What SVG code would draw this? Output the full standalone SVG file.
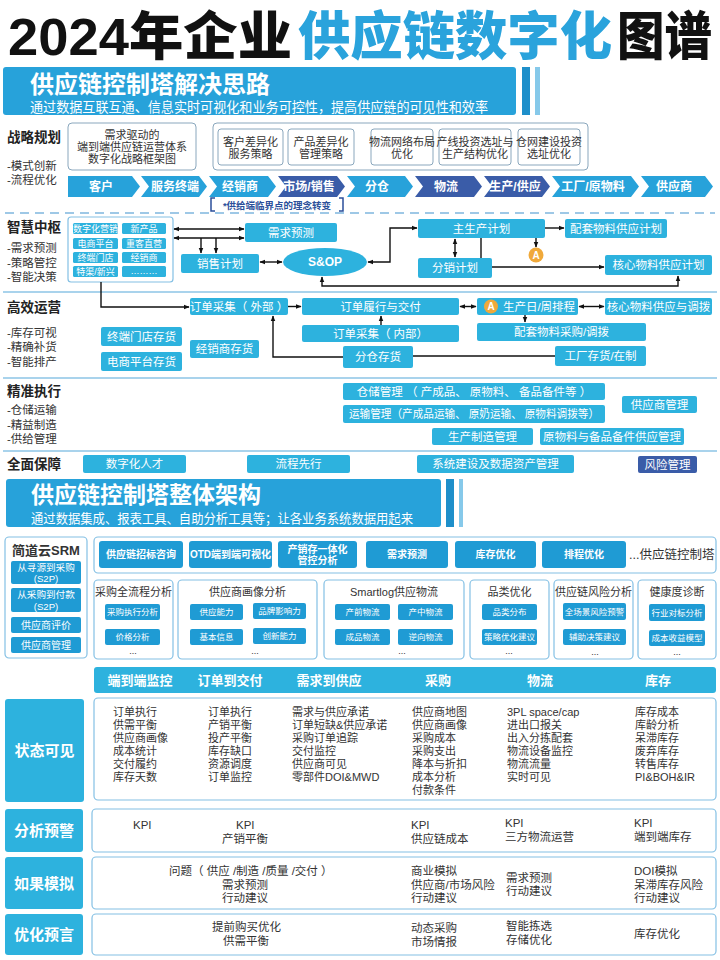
<svg xmlns="http://www.w3.org/2000/svg" width="720" height="960" viewBox="0 0 720 960">
<defs>
<marker id="ah" viewBox="0 0 10 10" refX="9" refY="5" markerWidth="6" markerHeight="6" orient="auto-start-reverse" markerUnits="userSpaceOnUse">
<path d="M0,1 L10,5 L0,9 z" fill="#111"/>
</marker>
<style>
text{font-family:"Liberation Sans","Noto Sans CJK SC",sans-serif;}
.c{text-anchor:middle;dominant-baseline:central}
.m{dominant-baseline:central}
.b{fill:#2db2de}
.bd{fill:#3a5ca8}
.bh{fill:#27a2da}
.bs{fill:#1f9bd4}
.sep{stroke:#8cc4e6;stroke-width:1.5;fill:none}
.ln{stroke:#111;stroke-width:1.4;fill:none}
.ol{fill:#fff;stroke:#84c0e4;stroke-width:1.2}
.og{fill:#fff;stroke:#8aa7bd;stroke-width:1}
.sec{font-size:13.5px;font-weight:700;fill:#222}
.sub{font-size:11.5px;fill:#333}
.bt{font-size:11.5px;fill:#fff}
.st{font-size:11px;fill:#333}
.btn{font-size:8.5px;fill:#fff}
.hb{font-size:10px;fill:#fff;font-weight:700}
.lb{font-size:15px;fill:#fff;font-weight:700}
.kt{font-size:11.5px;fill:#333}
.cv{font-size:12px;fill:#fff;font-weight:700}
.cell{font-size:9px;fill:#fff}
.dots{font-size:9px;fill:#333}
</style>
</defs>
<rect width="720" height="960" fill="#fff"/>

<g id="title">
<text x="8" y="55" font-size="52" font-weight="900" fill="#111" textLength="284" lengthAdjust="spacingAndGlyphs">2024年企业</text>
<text x="298" y="55" font-size="52" font-weight="900" fill="#2aa3dc" textLength="314" lengthAdjust="spacingAndGlyphs">供应链数字化</text>
<text x="617" y="55" font-size="52" font-weight="900" fill="#111" textLength="95" lengthAdjust="spacingAndGlyphs">图谱</text>
</g>

<g id="header1">
<rect x="3" y="67" width="513" height="48" rx="3" class="bh"/>
<rect x="522" y="67" width="8" height="48" fill="#1e8fca"/>
<rect x="535" y="67" width="5" height="48" fill="#86c9ea"/>
<text fill="#fff"><tspan x="30" y="93" font-size="24" font-weight="700">供应链控制塔解决思路</tspan><tspan x="30" y="112" font-size="14" textLength="458" lengthAdjust="spacingAndGlyphs">通过数据互联互通、信息实时可视化和业务可控性，提高供应链的可见性和效率</tspan></text>
</g>

<g id="strategy">
<text x="7" y="137" class="sec m">战略规划</text>
<text class="sub m"><tspan x="7" y="166">-模式创新</tspan><tspan x="7" y="180">-流程优化</tspan></text>
<rect x="68" y="123" width="128" height="47" rx="4" class="og"/>
<text class="c st" font-size="10.7"><tspan x="132" y="135">需求驱动的</tspan><tspan x="132" y="147">端到端供应链运营体系</tspan><tspan x="132" y="159">数字化战略框架图</tspan></text>
<rect x="213" y="123" width="375" height="47" rx="4" class="og"/>
<rect x="218" y="129" width="65" height="36" rx="3" class="og"/>
<text class="c st" font-size="10.5"><tspan x="250.5" y="141.5">客户差异化</tspan><tspan x="250.5" y="154">服务策略</tspan></text>
<rect x="288" y="129" width="66" height="36" rx="3" class="og"/>
<text class="c st" font-size="10.5"><tspan x="321" y="141.5">产品差异化</tspan><tspan x="321" y="154">管理策略</tspan></text>
<rect x="371" y="129" width="62" height="36" rx="3" class="og"/>
<text class="c st" font-size="9.7"><tspan x="402" y="142">物流网络布局</tspan><tspan x="402" y="154">优化</tspan></text>
<rect x="439" y="129" width="72" height="36" rx="3" class="og"/>
<text class="c st" font-size="9.7"><tspan x="475" y="142">产线投资选址与</tspan><tspan x="475" y="154">生产结构优化</tspan></text>
<rect x="518" y="129" width="62" height="36" rx="3" class="og"/>
<text class="c st" font-size="9.7"><tspan x="549" y="142">仓网建设投资</tspan><tspan x="549" y="154">选址优化</tspan></text>
</g>

<g id="chevrons">
<polygon points="68,176 132,176 140,186.5 132,197 68,197" class="bh"/>
<text x="101" y="186.5" class="c cv">客户</text>
<polygon points="141,176 199,176 207,186.5 199,197 141,197 149,186.5" class="bh"/>
<text x="175" y="186.5" class="c cv">服务终端</text>
<polygon points="209,176 268,176 276,186.5 268,197 209,197 217,186.5" class="bh"/>
<text x="240" y="186.5" class="c cv">经销商</text>
<polygon points="278,176 337,176 345,186.5 337,197 278,197 286,186.5" class="bd"/>
<text x="309" y="186.5" class="c cv">市场/销售</text>
<polygon points="347,176 405,176 413,186.5 405,197 347,197 355,186.5" class="bh"/>
<text x="377" y="186.5" class="c cv">分仓</text>
<polygon points="415,176 474,176 482,186.5 474,197 415,197 423,186.5" class="bd"/>
<text x="446" y="186.5" class="c cv">物流</text>
<polygon points="484,176 542,176 550,186.5 542,197 484,197 492,186.5" class="bd"/>
<text x="515" y="186.5" class="c cv">生产/供应</text>
<polygon points="552,176 631,176 639,186.5 631,197 552,197 560,186.5" class="bh"/>
<text x="593" y="186.5" class="c cv">工厂/原物料</text>
<polygon points="641,176 705,176 713,186.5 705,197 641,197 649,186.5" class="bh"/>
<text x="674" y="186.5" class="c cv">供应商</text>
<path d="M215,198 H211 V211 H215 M339,198 H343 V211 H339" stroke="#2b4f9a" stroke-width="1.5" fill="none"/>
<text x="277" y="205" class="c" font-size="9.5" font-weight="700" fill="#2b4f9a">*供给端临界点的理念转变</text>
</g>

<g id="separators">
<path d="M5,213 H715" stroke="#7fb7de" stroke-width="1.5" stroke-dasharray="9 6" fill="none"/>
<path d="M3,292 H717" class="sep"/>
<path d="M3,378 H717" class="sep"/>
<path d="M3,451 H717" class="sep"/>
</g>

<g id="hub-labels">
<text x="7" y="227" class="sec m">智慧中枢</text>
<text class="sub m"><tspan x="7" y="248">-需求预测</tspan><tspan x="7" y="263">-策略管控</tspan><tspan x="7" y="277">-智能决策</tspan></text>
</g>

<g id="channels">
<rect x="68" y="217" width="105" height="65" rx="3" class="ol"/>
<rect x="73" y="223" width="45" height="11" rx="1.5" class="b"/><text x="95.5" y="228.5" class="c cell" font-size="8.6">数字化营销</text>
<rect x="122" y="223" width="44" height="11" rx="1.5" class="b"/><text x="144" y="228.5" class="c cell">新产品</text>
<rect x="73" y="238" width="45" height="11" rx="1.5" class="b"/><text x="95.5" y="243.5" class="c cell">电商平台</text>
<rect x="122" y="238" width="44" height="11" rx="1.5" class="b"/><text x="144" y="243.5" class="c cell">重客直营</text>
<rect x="73" y="252" width="45" height="11" rx="1.5" class="b"/><text x="95.5" y="257.5" class="c cell">终端门店</text>
<rect x="122" y="252" width="44" height="11" rx="1.5" class="b"/><text x="144" y="257.5" class="c cell">经销商</text>
<rect x="73" y="266" width="45" height="11" rx="1.5" class="b"/><text x="95.5" y="271.5" class="c cell">特渠/新兴</text>
<rect x="122" y="266" width="44" height="11" rx="1.5" class="b"/><text x="144" y="270.5" class="c cell">………</text>
</g>

<g id="demand-forecast"><rect x="245" y="223" width="92" height="19" rx="2" class="b"/><text x="291" y="232.5" class="c bt">需求预测</text></g>
<g id="sales-plan"><rect x="181" y="254" width="78" height="19" rx="2" class="b"/><text x="220" y="263.5" class="c bt">销售计划</text></g>
<g id="sop"><ellipse cx="325" cy="262" rx="42" ry="14" class="b"/><text x="325" y="262" class="c" font-size="12" font-weight="700" fill="#fff">S&amp;OP</text></g>
<g id="mps"><rect x="418" y="219" width="127" height="19" rx="2" class="b"/><text x="481.5" y="228.5" class="c bt">主生产计划</text></g>
<g id="aux-plan"><rect x="565" y="219" width="102" height="19" rx="2" class="b"/><text x="616" y="228.5" class="c bt">配套物料供应计划</text></g>
<g id="dist-plan"><rect x="418" y="258" width="74" height="20" rx="2" class="b"/><text x="455" y="268" class="c bt">分销计划</text></g>
<g id="core-plan"><rect x="605" y="255" width="107" height="20" rx="2" class="b"/><text x="658.5" y="265" class="c bt">核心物料供应计划</text></g>
<g id="a1"><circle cx="536" cy="255" r="7.5" fill="#f0a93a"/><text x="536" y="255" class="c" font-size="10" font-weight="700" fill="#fff">A</text></g>

<g id="ops-labels">
<text x="7" y="307" class="sec m">高效运营</text>
<text class="sub m"><tspan x="7" y="333">-库存可视</tspan><tspan x="7" y="347">-精确补货</tspan><tspan x="7" y="362">-智能排产</tspan></text>
</g>
<g id="order-ext"><rect x="190" y="298" width="98" height="17" rx="2" class="b"/><text x="239" y="306.5" class="c bt">订单采集（ 外部 ）</text></g>
<g id="order-fulfil"><rect x="302" y="298" width="157" height="17" rx="2" class="b"/><text x="380.5" y="306.5" class="c bt">订单履行与交付</text></g>
<g id="schedule"><rect x="477" y="298" width="101" height="17" rx="2" class="b"/><circle cx="491" cy="306.5" r="7" fill="#f0a93a"/><text x="491" y="306.5" class="c" font-size="10" font-weight="700" fill="#fff">A</text><text x="539" y="306.5" class="c bt">生产日/周排程</text></g>
<g id="core-supply"><rect x="605" y="298" width="107" height="17" rx="2" class="b"/><text x="658.5" y="306.5" class="c bt">核心物料供应与调拨</text></g>
<g id="aux-purchase"><rect x="477" y="323" width="169" height="18" rx="2" class="b"/><text x="561.5" y="332" class="c bt">配套物料采购/调拨</text></g>
<g id="order-int"><rect x="302" y="325" width="157" height="17" rx="2" class="b"/><text x="380.5" y="333.5" class="c bt">订单采集（  内部）</text></g>
<g id="dc-stock"><rect x="343" y="346" width="70" height="22" rx="2" class="b"/><text x="378" y="357" class="c bt">分仓存货</text></g>
<g id="factory-stock"><rect x="555" y="346" width="91" height="20" rx="2" class="b"/><text x="600.5" y="356" class="c bt">工厂存货/在制</text></g>
<g id="store-stock"><rect x="101" y="327" width="81" height="19" rx="2" class="b"/><text x="141.5" y="336.5" class="c bt">终端门店存货</text></g>
<g id="ec-stock"><rect x="101" y="352" width="81" height="19" rx="2" class="b"/><text x="141.5" y="361.5" class="c bt">电商平台存货</text></g>
<g id="dealer-stock"><rect x="190" y="340" width="69" height="18" rx="2" class="b"/><text x="224.5" y="349" class="c bt">经销商存货</text></g>

<g id="connectors">
<path d="M174,229 H244" class="ln" marker-start="url(#ah)" marker-end="url(#ah)"/>
<path d="M174,238 H244" class="ln" marker-start="url(#ah)" marker-end="url(#ah)"/>
<path d="M201,238 V253" class="ln" marker-end="url(#ah)"/>
<path d="M216,238 V253" class="ln" marker-end="url(#ah)"/>
<path d="M260,262 H282" class="ln" marker-start="url(#ah)" marker-end="url(#ah)"/>
<path d="M368,262 H390 V228 H417" class="ln" marker-start="url(#ah)" marker-end="url(#ah)"/>
<path d="M545,228 H564" class="ln" marker-end="url(#ah)"/>
<path d="M536,238 V247" class="ln" marker-end="url(#ah)"/>
<path d="M455,239 V257" class="ln" marker-start="url(#ah)" marker-end="url(#ah)"/>
<path d="M481,238 V258" class="ln"/>
<path d="M492,267 H604" class="ln" marker-end="url(#ah)"/>
<path d="M322,277 V286 H678 V276" class="ln" marker-start="url(#ah)" marker-end="url(#ah)"/>
<path d="M101,282 V307 H189" class="ln" marker-end="url(#ah)"/>
<path d="M288,306.5 H301" class="ln" marker-end="url(#ah)"/>
<path d="M460,306.5 H476" class="ln" marker-start="url(#ah)" marker-end="url(#ah)"/>
<path d="M579,306.5 H604" class="ln" marker-start="url(#ah)" marker-end="url(#ah)"/>
<path d="M525,315 V322" class="ln" marker-end="url(#ah)"/>
<path d="M381,325 V316" class="ln" marker-end="url(#ah)"/>
<path d="M343,357 H273 V316" class="ln" marker-end="url(#ah)"/>
<path d="M413,356 H555" class="ln"/>
</g>

<g id="exec">
<text x="7" y="391" class="sec m">精准执行</text>
<text class="sub m"><tspan x="7" y="410">-仓储运输</tspan><tspan x="7" y="425">-精益制造</tspan><tspan x="7" y="439">-供给管理</tspan></text>
<rect x="343" y="383" width="262" height="17" rx="2" class="b"/><text x="474" y="391.5" class="c bt" font-size="11">仓储管理 （ 产成品、 原物料、 备品备件等 ）</text>
<rect x="343" y="405" width="262" height="18" rx="2" class="b"/><text x="474" y="414" class="c bt" font-size="11" textLength="250" lengthAdjust="spacingAndGlyphs">运输管理（产成品运输、 原奶运输、 原物料调拨等）</text>
<rect x="622" y="396" width="75" height="17" rx="2" class="b"/><text x="659.5" y="404.5" class="c bt" font-size="11">供应商管理</text>
<rect x="432" y="428" width="101" height="17" rx="2" class="b"/><text x="482.5" y="436.5" class="c bt" font-size="11">生产制造管理</text>
<rect x="540" y="428" width="144" height="17" rx="2" class="b"/><text x="612" y="436.5" class="c bt" font-size="11">原物料与备品备件供应管理</text>
</g>

<g id="guarantee">
<text x="7" y="464" class="sec m">全面保障</text>
<rect x="83" y="455" width="103" height="18" rx="2" class="b"/><text x="134.5" y="464" class="c bt" font-size="11">数字化人才</text>
<rect x="247" y="455" width="103" height="18" rx="2" class="b"/><text x="298.5" y="464" class="c bt" font-size="11">流程先行</text>
<rect x="417" y="455" width="157" height="18" rx="2" class="b"/><text x="495.5" y="464" class="c bt" font-size="11">系统建设及数据资产管理</text>
<rect x="638" y="456" width="59" height="17" rx="2" class="bd"/><text x="667.5" y="464.5" class="c bt" font-size="11">风险管理</text>
</g>

<g id="header2">
<rect x="6" y="479" width="435" height="48" rx="3" class="bh"/>
<rect x="446" y="479" width="8" height="48" fill="#1e8fca"/>
<rect x="459" y="479" width="4" height="48" fill="#86c9ea"/>
<text fill="#fff"><tspan x="31" y="503" font-size="23" font-weight="700">供应链控制塔整体架构</tspan><tspan x="31" y="523" font-size="13" textLength="382" lengthAdjust="spacingAndGlyphs">通过数据集成、报表工具、自助分析工具等；让各业务系统数据用起来</tspan></text>
</g>

<g id="srm">
<rect x="5" y="537" width="82" height="121" rx="4" class="ol"/>
<text x="46" y="550" class="c" font-size="13" font-weight="700" fill="#333">简道云SRM</text>
<rect x="11" y="561" width="70" height="23" rx="2" class="bs"/>
<text class="c" font-size="9.6" fill="#fff"><tspan x="46" y="567">从寻源到采购</tspan><tspan x="46" y="578.2">(S2P)</tspan></text>
<rect x="11" y="588" width="70" height="24" rx="2" class="bs"/>
<text class="c" font-size="9.6" fill="#fff"><tspan x="46" y="594.3">从采购到付款</tspan><tspan x="46" y="605.5">(S2P)</tspan></text>
<rect x="11" y="617" width="70" height="16" rx="2" class="bs"/>
<text x="46" y="625" class="c" font-size="10" fill="#fff">供应商评价</text>
<rect x="11" y="637" width="70" height="16" rx="2" class="bs"/>
<text x="46" y="645" class="c" font-size="10" fill="#fff">供应商管理</text>
</g>

<g id="tower-row">
<rect x="94" y="537" width="622" height="36" rx="4" class="ol"/>
<rect x="99" y="541" width="84" height="27" rx="3" class="bs"/><text x="141" y="554.5" class="c hb">供应链招标咨询</text>
<rect x="189" y="541" width="83" height="27" rx="3" class="bs"/><text x="230.5" y="554.5" class="c hb">OTD端到端可视化</text>
<rect x="278" y="541" width="79" height="27" rx="3" class="bs"/><text class="c hb" font-size="9.6"><tspan x="317.5" y="549">产销存一体化</tspan><tspan x="317.5" y="560.2">管控分析</tspan></text>
<rect x="366" y="541" width="82" height="27" rx="3" class="bs"/><text x="407" y="554.5" class="c hb">需求预测</text>
<rect x="455" y="541" width="81" height="27" rx="3" class="bs"/><text x="495.5" y="554.5" class="c hb">库存优化</text>
<rect x="542" y="541" width="84" height="27" rx="3" class="bs"/><text x="584" y="554.5" class="c hb">排程优化</text>
<text x="629" y="555" class="m" font-size="12.5" fill="#333">...供应链控制塔</text>
</g>

<g id="purchase-analysis">
<rect x="94" y="580" width="79" height="79" rx="4" class="ol"/>
<text x="133.5" y="592" class="c st">采购全流程分析</text>
<rect x="105" y="604" width="55" height="16" rx="2" class="bs"/><text x="132.5" y="612" class="c btn">采购执行分析</text>
<rect x="105" y="629" width="55" height="16" rx="2" class="bs"/><text x="132.5" y="637" class="c btn">价格分析</text>
<text x="133" y="651" class="c dots">...</text>
</g>
<g id="supplier-profile">
<rect x="178" y="580" width="139" height="79" rx="4" class="ol"/>
<text x="247.5" y="592" class="c st">供应商画像分析</text>
<rect x="190" y="604" width="53" height="16" rx="2" class="bs"/><text x="216.5" y="612" class="c btn">供应能力</text>
<rect x="253" y="603" width="53" height="16" rx="2" class="bs"/><text x="279.5" y="611" class="c btn">品牌影响力</text>
<rect x="190" y="629" width="53" height="16" rx="2" class="bs"/><text x="216.5" y="637" class="c btn">基本信息</text>
<rect x="253" y="628" width="53" height="16" rx="2" class="bs"/><text x="279.5" y="636" class="c btn">创新能力</text>
<text x="255" y="651" class="c dots">...</text>
</g>
<g id="smartlog">
<rect x="324" y="580" width="140" height="79" rx="4" class="ol"/>
<text x="394" y="592" class="c st">Smartlog供应物流</text>
<rect x="335" y="604" width="55" height="16" rx="2" class="bs"/><text x="362.5" y="612" class="c btn">产前物流</text>
<rect x="398" y="604" width="55" height="16" rx="2" class="bs"/><text x="425.5" y="612" class="c btn">产中物流</text>
<rect x="335" y="629" width="55" height="16" rx="2" class="bs"/><text x="362.5" y="637" class="c btn">成品物流</text>
<rect x="398" y="629" width="55" height="16" rx="2" class="bs"/><text x="425.5" y="637" class="c btn">逆向物流</text>
<text x="402" y="651" class="c dots">...</text>
</g>
<g id="category">
<rect x="470" y="580" width="79" height="79" rx="4" class="ol"/>
<text x="509.5" y="592" class="c st">品类优化</text>
<rect x="482" y="604" width="55" height="16" rx="2" class="bs"/><text x="509.5" y="612" class="c btn">品类分布</text>
<rect x="482" y="629" width="55" height="16" rx="2" class="bs"/><text x="509.5" y="637" class="c btn">策略优化建议</text>
<text x="509" y="651" class="c dots">...</text>
</g>
<g id="risk">
<rect x="554" y="580" width="79" height="79" rx="4" class="ol"/>
<text x="593.5" y="592" class="c st">供应链风险分析</text>
<rect x="563" y="603" width="63" height="17" rx="2" class="bs"/><text x="594.5" y="611.5" class="c btn">全场景风险预警</text>
<rect x="563" y="629" width="63" height="16" rx="2" class="bs"/><text x="594.5" y="637" class="c btn">辅助决策建议</text>
<text x="595" y="652" class="c dots">...</text>
</g>
<g id="health">
<rect x="638" y="580" width="78" height="79" rx="4" class="ol"/>
<text x="677" y="592" class="c st">健康度诊断</text>
<rect x="649" y="604" width="56" height="17" rx="2" class="bs"/><text x="677" y="612.5" class="c btn">行业对标分析</text>
<rect x="649" y="630" width="56" height="16" rx="2" class="bs"/><text x="677" y="638" class="c btn">成本收益模型</text>
<text x="677" y="652" class="c dots">...</text>
</g>

<g id="col-header">
<rect x="94" y="667" width="622" height="26" rx="3" class="b"/>
<text x="140" y="680.5" class="c" font-size="13" font-weight="700" fill="#fff">端到端监控</text>
<text x="230" y="680.5" class="c" font-size="13" font-weight="700" fill="#fff">订单到交付</text>
<text x="329" y="680.5" class="c" font-size="13" font-weight="700" fill="#fff">需求到供应</text>
<text x="438" y="680.5" class="c" font-size="13" font-weight="700" fill="#fff">采购</text>
<text x="540" y="680.5" class="c" font-size="13" font-weight="700" fill="#fff">物流</text>
<text x="658" y="680.5" class="c" font-size="13" font-weight="700" fill="#fff">库存</text>
</g>

<g id="status">
<rect x="5" y="699" width="79" height="103" rx="3" class="b"/>
<text x="44.5" y="750.5" class="c lb">状态可见</text>
<rect x="94" y="698" width="622" height="102" rx="4" class="ol"/>
<text class="m st"><tspan x="113" y="712">订单执行</tspan><tspan x="113" y="725">供需平衡</tspan><tspan x="113" y="738">供应商画像</tspan><tspan x="113" y="751">成本统计</tspan><tspan x="113" y="764">交付履约</tspan><tspan x="113" y="777">库存天数</tspan></text>
<text class="m st"><tspan x="208" y="712">订单执行</tspan><tspan x="208" y="725">产销平衡</tspan><tspan x="208" y="738">投产平衡</tspan><tspan x="208" y="751">库存缺口</tspan><tspan x="208" y="764">资源调度</tspan><tspan x="208" y="777">订单监控</tspan></text>
<text class="m st"><tspan x="292" y="712">需求与供应承诺</tspan><tspan x="292" y="725">订单短缺&amp;供应承诺</tspan><tspan x="292" y="738">采购订单追踪</tspan><tspan x="292" y="751">交付监控</tspan><tspan x="292" y="764">供应商可见</tspan><tspan x="292" y="777">零部件DOI&amp;MWD</tspan></text>
<text class="m st"><tspan x="412" y="712">供应商地图</tspan><tspan x="412" y="725">供应商画像</tspan><tspan x="412" y="738">采购成本</tspan><tspan x="412" y="751">采购支出</tspan><tspan x="412" y="764">降本与折扣</tspan><tspan x="412" y="777">成本分析</tspan><tspan x="412" y="790">付款条件</tspan></text>
<text class="m st"><tspan x="507" y="712">3PL space/cap</tspan><tspan x="507" y="725">进出口报关</tspan><tspan x="507" y="738">出入分拣配套</tspan><tspan x="507" y="751">物流设备监控</tspan><tspan x="507" y="764">物流流量</tspan><tspan x="507" y="777">实时可见</tspan></text>
<text class="m st"><tspan x="635" y="712">库存成本</tspan><tspan x="635" y="725">库龄分析</tspan><tspan x="635" y="738">呆滞库存</tspan><tspan x="635" y="751">废弃库存</tspan><tspan x="635" y="764">转售库存</tspan><tspan x="635" y="777">PI&amp;BOH&amp;IR</tspan></text>
</g>

<g id="alert">
<rect x="5" y="809" width="78" height="43" rx="3" class="b"/>
<text x="44" y="830.5" class="c lb">分析预警</text>
<rect x="92" y="809" width="624" height="43" rx="4" class="ol"/>
<text x="133" y="825" class="m kt">KPI</text>
<text class="m kt"><tspan x="236" y="825">KPI</tspan><tspan x="222" y="839">产销平衡</tspan></text>
<text class="m kt"><tspan x="411" y="825">KPI</tspan><tspan x="411" y="839">供应链成本</tspan></text>
<text class="m kt"><tspan x="505" y="823">KPI</tspan><tspan x="505" y="837">三方物流运营</tspan></text>
<text class="m kt"><tspan x="634" y="823">KPI</tspan><tspan x="634" y="837">端到端库存</tspan></text>
</g>

<g id="whatif">
<rect x="5" y="857" width="78" height="52" rx="3" class="b"/>
<text x="44" y="883" class="c lb">如果模拟</text>
<rect x="92" y="857" width="624" height="52" rx="4" class="ol"/>
<text class="m kt"><tspan x="169" y="871">问题（ 供应 /制造 /质量 /交付 ）</tspan><tspan x="222" y="885">需求预测</tspan><tspan x="222" y="898">行动建议</tspan></text>
<text class="m kt"><tspan x="411" y="871">商业模拟</tspan><tspan x="411" y="885">供应商/市场风险</tspan><tspan x="411" y="898">行动建议</tspan></text>
<text class="m kt"><tspan x="506" y="878">需求预测</tspan><tspan x="506" y="891">行动建议</tspan></text>
<text class="m kt"><tspan x="634" y="871">DOI模拟</tspan><tspan x="634" y="885">呆滞库存风险</tspan><tspan x="634" y="898">行动建议</tspan></text>
</g>

<g id="optimize">
<rect x="5" y="914" width="78" height="41" rx="3" class="b"/>
<text x="44" y="934.5" class="c lb">优化预言</text>
<rect x="92" y="914" width="624" height="41" rx="4" class="ol"/>
<text class="m kt"><tspan x="212" y="927">提前购买优化</tspan><tspan x="223" y="941">供需平衡</tspan></text>
<text class="m kt"><tspan x="411" y="928">动态采购</tspan><tspan x="411" y="942">市场情报</tspan></text>
<text class="m kt"><tspan x="506" y="926">智能拣选</tspan><tspan x="506" y="940">存储优化</tspan></text>
<text x="634" y="934" class="m kt">库存优化</text>
</g>
</svg>
